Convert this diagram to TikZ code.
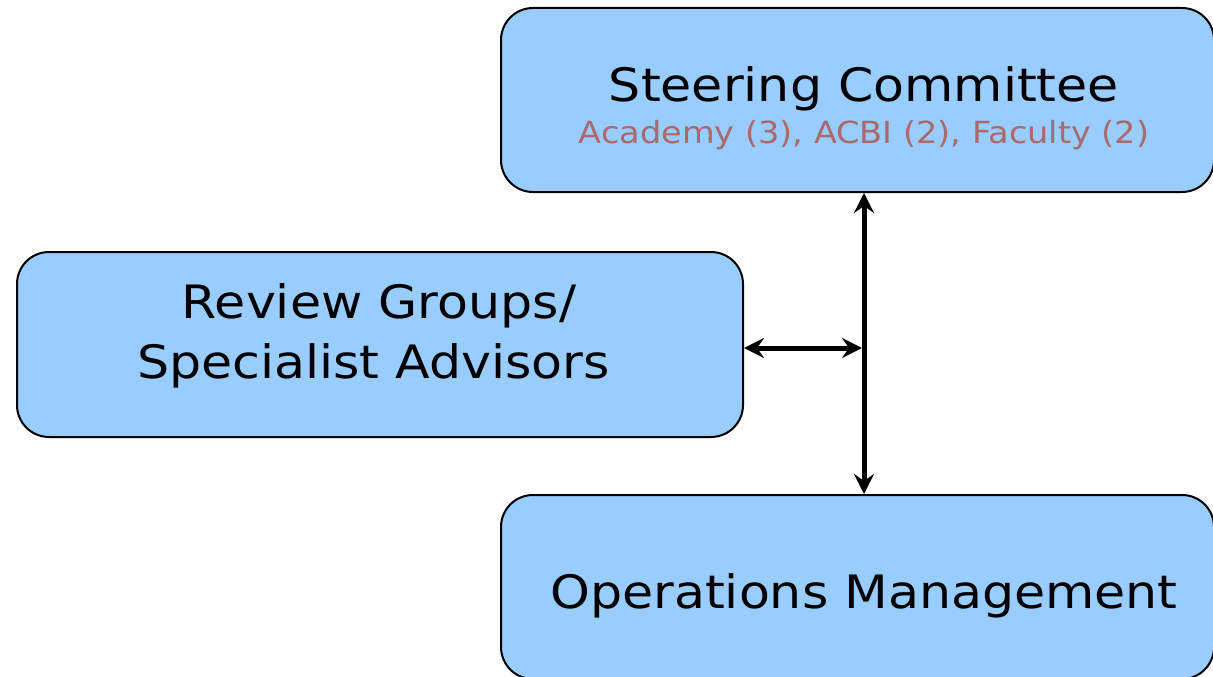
\documentclass[tikz,border=0pt]{standalone}
\usepackage{fontspec}
\setmainfont[FakeStretch=1.1]{DejaVu Sans}
\usetikzlibrary{positioning, arrows.meta}
\definecolor{boxblue}{RGB}{153,204,255}
\definecolor{subrose}{RGB}{168,106,106}

\begin{document}
\begin{tikzpicture}[x=1pt,y=-1pt,
	orgbox/.style={draw=black,line width=2pt,fill=boxblue,rounded corners=32pt,
		minimum width=713pt,minimum height=184pt,inner sep=0pt},
	title/.style={font=\fontsize{46}{60}\selectfont,align=center,inner sep=0pt},
	members/.style={font=\fontsize{30.5}{36}\selectfont,text=subrose,inner sep=0pt},
	dblarrow/.style={line width=5pt,{Stealth[length=20pt,width=20pt,inset=7pt]}-{Stealth[length=20pt,width=20pt,inset=7pt]}}]
	
	\useasboundingbox (0,0) rectangle (1213,677);
	
	%Boxes
	\node[orgbox] (steer) at (857.5,100) {};
	\node[orgbox,minimum width=726pt,minimum height=185pt] (review) at (380,344.5) {};
	\node[orgbox] (ops) at (857.5,587) {};
	
	%Texts
	\node[title,anchor=base] (steer_t) at (864,102) {Steering Committee};
	\node[members,anchor=base] (steer_m) at (864,143) {Academy (3), ACBI (2), Faculty (2)};
	\node[title,anchor=base] (review_t1) at (379,318) {Review Groups/};
	\node[title,anchor=base] (review_t2) at (373.5,378) {Specialist Advisors};
	\node[title,anchor=base] (ops_t) at (864,608) {Operations Management};
	
	%Arrows
	\coordinate (junc) at (864,348);
	\draw[dblarrow] (steer.south -| junc) -- (ops.north -| junc);
	\draw[dblarrow] (review.east |- junc) -- ([xshift=-2pt]junc);
	
\end{tikzpicture}
\end{document}
